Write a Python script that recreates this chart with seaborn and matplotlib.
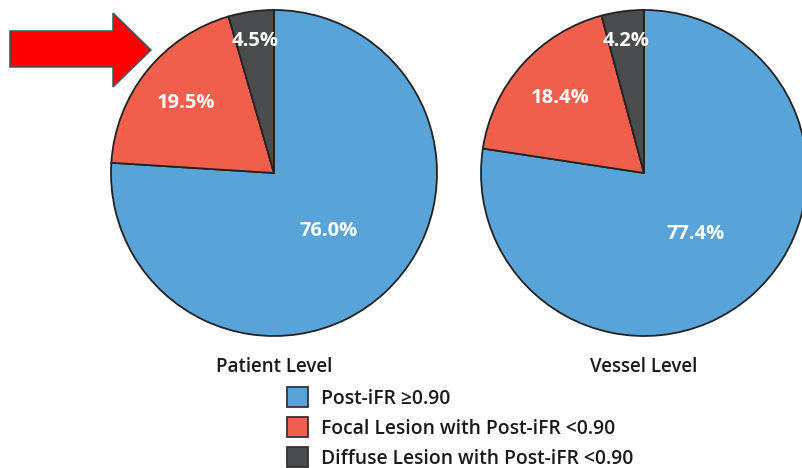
import matplotlib
matplotlib.use("Agg")
import matplotlib.pyplot as plt
from matplotlib.patches import Patch, Polygon
import numpy as np
import seaborn as sns

# Share of post-PCI iFR outcomes, per patient and per vessel
categories = [
    "Post-iFR \u22650.90",
    "Focal Lesion with Post-iFR <0.90",
    "Diffuse Lesion with Post-iFR <0.90",
]
patient_pct = [76.0, 19.5, 4.5]
vessel_pct = [77.4, 18.4, 4.2]
panel_titles = ["Patient Level", "Vessel Level"]

sns.set_theme(style="white")
plt.rcParams["font.family"] = ["Open Sans", "DejaVu Sans"]
palette = sns.color_palette(["#58A4D9", "#EF5F4B", "#4A4B4D"])

W, H = 803, 468
fig = plt.figure(figsize=(W / 100, H / 100), dpi=100)
fig.patch.set_facecolor("white")

# label distance from the centre, as a fraction of the radius, per slice
label_dist = [0.49, 0.69, 0.82]
R = 163


def pie_axes(cx, cy):
    return fig.add_axes([(cx - R) / W, 1 - (cy + R) / H, 2 * R / W, 2 * R / H])


for (cx, cy), values, title in zip([(274, 173), (644, 173)],
                                   [patient_pct, vessel_pct], panel_titles):
    ax = pie_axes(cx, cy)
    wedges, _ = ax.pie(values, colors=palette, startangle=90, counterclock=False,
                       radius=1.0, frame=True,
                       wedgeprops=dict(edgecolor="#222222", linewidth=1.3))
    for w, v, d in zip(wedges, values, label_dist):
        ang = np.deg2rad((w.theta1 + w.theta2) / 2)
        ax.text(d * np.cos(ang), d * np.sin(ang), f"{v:.1f}%", color="white",
                fontsize=14.5, fontweight="bold", ha="center", va="center")
    ax.text(0, -1.19, title, ha="center", va="center", fontsize=13.5,
            fontweight="semibold", color="#1a1a1a")
    ax.set_xlim(-1, 1)
    ax.set_ylim(-1, 1)
    ax.set_aspect("equal")
    ax.axis("off")

# legend below the pies
handles = [Patch(facecolor=c, edgecolor="#333333", linewidth=1.3) for c in palette]
leg = fig.legend(handles, categories, loc="upper left",
                 bbox_to_anchor=(287 / W, 1 - 387 / H), frameon=False,
                 fontsize=13.9, handlelength=1.09, handleheight=1.22,
                 handletextpad=0.66, labelspacing=0.44, borderpad=0,
                 borderaxespad=0, labelcolor="#1a1a1a")
for t in leg.get_texts():
    t.set_fontweight("semibold")

# red pointer arrow on the left
over = fig.add_axes([0, 0, 1, 1], facecolor="none")
over.set_xlim(0, W)
over.set_ylim(H, 0)
over.axis("off")
arrow_pts = [(10, 31), (113, 31), (113, 13), (151, 50), (113, 87), (113, 67), (10, 67)]
over.add_patch(Polygon(arrow_pts, closed=True, facecolor="#FF0000",
                       edgecolor="#2E5F66", linewidth=1.1))

fig.savefig("out.png", dpi=100, facecolor="white")
